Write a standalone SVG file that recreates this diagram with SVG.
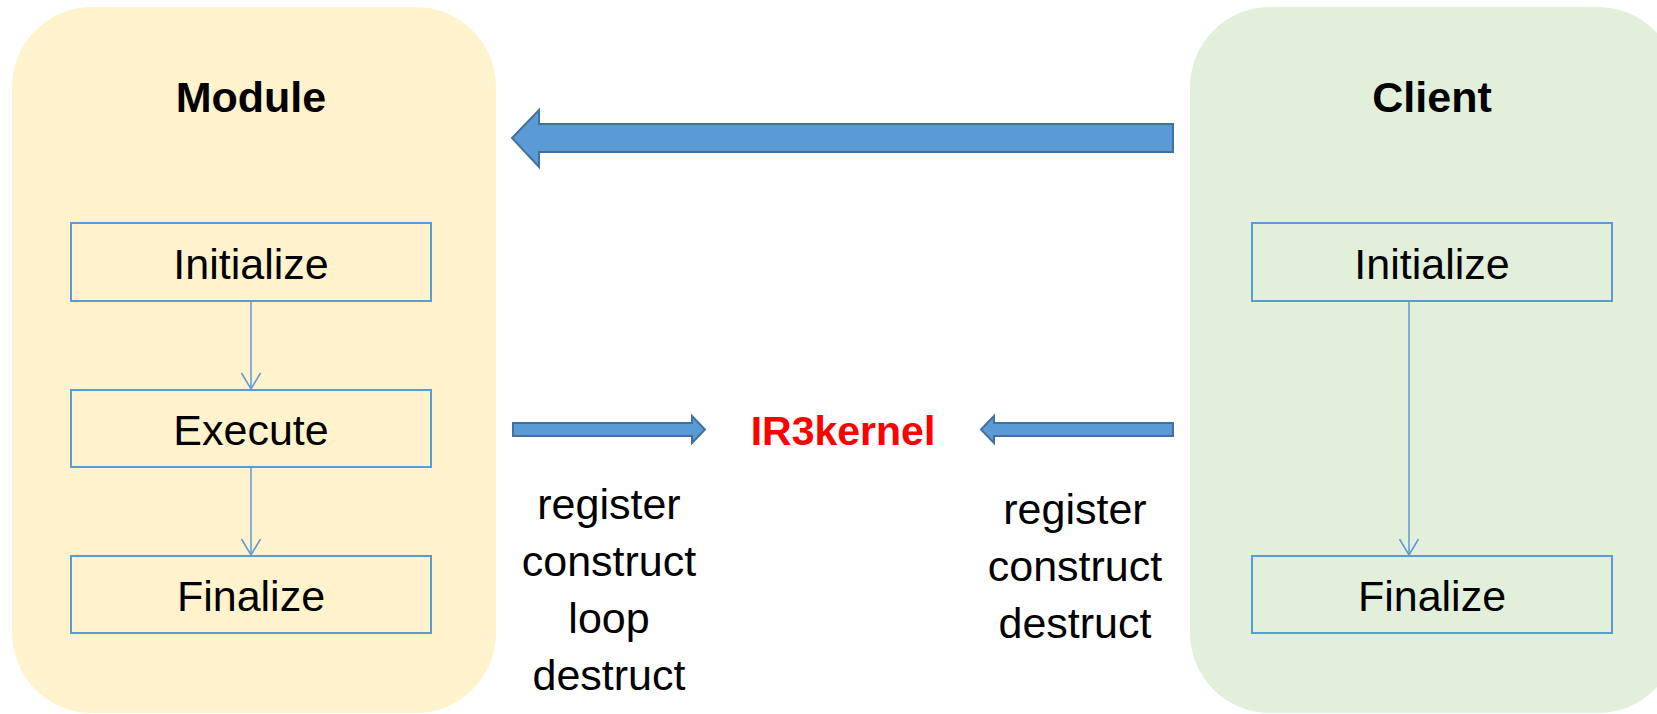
<svg xmlns="http://www.w3.org/2000/svg" width="1657" height="714" viewBox="0 0 1657 714">
  <style>
    .panel-module { fill: #FFF2CC; }
    .panel-client { fill: #E2EFDA; }
    .title { font-family: "Liberation Sans", Arial, sans-serif; font-weight: bold; font-size: 43px; fill: #000; text-anchor: middle; }
    .box { fill: none; stroke: #5B9BD5; stroke-width: 2; }
    .label { font-family: "Liberation Sans", Arial, sans-serif; font-size: 43px; fill: #000; text-anchor: middle; }
    .flow { fill: none; stroke: #5B9BD5; stroke-width: 1.5; }
    .block-arrow { fill: #5B9BD5; stroke: #41719C; stroke-width: 2; stroke-linejoin: miter; }
    .kernel { font-family: "Liberation Sans", Arial, sans-serif; font-weight: bold; font-size: 41px; fill: #FF0000; text-anchor: middle; }
  </style>
  <defs>
    <!-- open V head for the thin flow lines -->
    <marker id="vee" markerUnits="userSpaceOnUse" markerWidth="24" markerHeight="24" viewBox="-20 -12 24 24" refX="0" refY="0" orient="auto">
      <path d="M -16 -9.5 L 0 0 L -16 9.5" fill="none" stroke="#5B9BD5" stroke-width="1.5"/>
    </marker>
  </defs>

  <rect width="1657" height="714" fill="#FFFFFF"/>

  <!-- Module side -->
  <g id="module">
    <rect class="panel-module" x="12" y="7" width="484" height="706" rx="80" ry="80"/>
    <text class="title" x="251" y="112">Module</text>
  </g>
  <g id="module-initialize">
    <rect class="box" x="71" y="223" width="360" height="78"/>
    <text class="label" x="251" y="279">Initialize</text>
  </g>
  <g id="module-execute">
    <rect class="box" x="71" y="390" width="360" height="77"/>
    <text class="label" x="251" y="445">Execute</text>
  </g>
  <g id="module-finalize">
    <rect class="box" x="71" y="556" width="360" height="77"/>
    <text class="label" x="251" y="611">Finalize</text>
  </g>

  <!-- Client side -->
  <g id="client">
    <rect class="panel-client" x="1190" y="7" width="488" height="706" rx="80" ry="80"/>
    <text class="title" x="1432" y="112">Client</text>
  </g>
  <g id="client-initialize">
    <rect class="box" x="1252" y="223" width="360" height="78"/>
    <text class="label" x="1432" y="279">Initialize</text>
  </g>
  <g id="client-finalize">
    <rect class="box" x="1252" y="556" width="360" height="77"/>
    <text class="label" x="1432" y="611">Finalize</text>
  </g>

  <!-- IR3kernel -->
  <g id="ir3kernel">
    <text class="kernel" x="843" y="445">IR3kernel</text>
  </g>

  <!-- Call lists -->
  <g id="module-calls">
    <text class="label" x="609" y="519">register</text>
    <text class="label" x="609" y="576">construct</text>
    <text class="label" x="609" y="633">loop</text>
    <text class="label" x="609" y="690">destruct</text>
  </g>
  <g id="client-calls">
    <text class="label" x="1075" y="524">register</text>
    <text class="label" x="1075" y="581">construct</text>
    <text class="label" x="1075" y="638">destruct</text>
  </g>

  <!-- Connectors -->
  <g id="connectors">
    <path class="flow" d="M 251 301 L 251 389" marker-end="url(#vee)"/>
    <path class="flow" d="M 251 467 L 251 555" marker-end="url(#vee)"/>
    <path class="flow" d="M 1409 301 L 1409 555" marker-end="url(#vee)"/>

    <!-- Client to Module block arrow -->
    <path class="block-arrow" d="M 1173 124 L 1173 152 L 539 152 L 539 167 L 512 138 L 539 110 L 539 124 Z"/>
    <!-- Module to IR3kernel -->
    <path class="block-arrow" d="M 513 423 L 692 423 L 692 416 L 705 429.5 L 692 443 L 692 436 L 513 436 Z"/>
    <!-- Client to IR3kernel -->
    <path class="block-arrow" d="M 1173 423 L 994 423 L 994 416 L 981 429.5 L 994 443 L 994 436 L 1173 436 Z"/>
  </g>
</svg>
